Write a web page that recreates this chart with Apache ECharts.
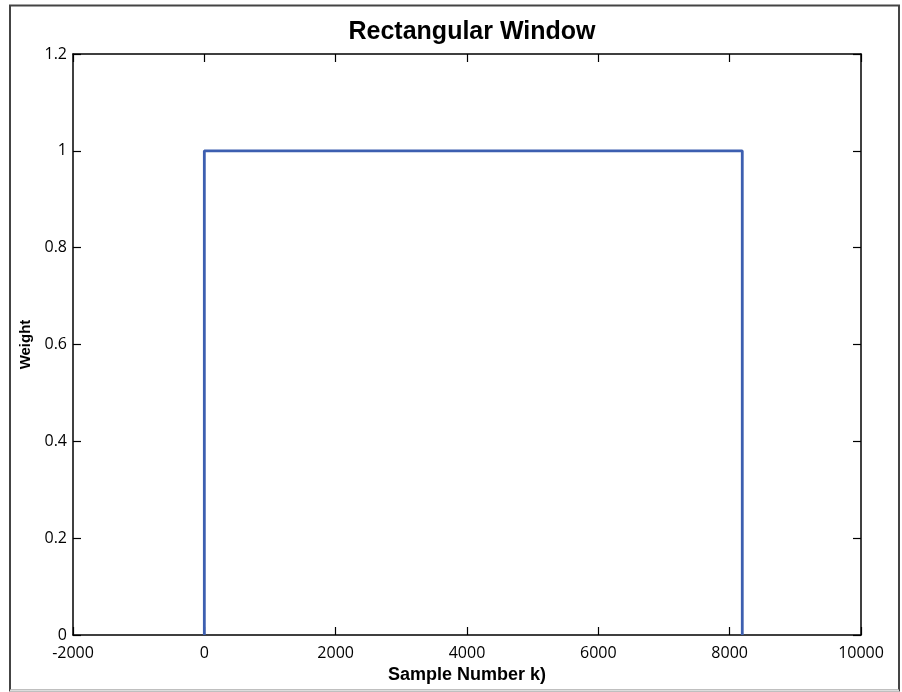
<!DOCTYPE html>
<html>
<head>
<meta charset="utf-8">
<script src="https://cdn.jsdelivr.net/npm/echarts@6/dist/echarts.min.js"></script>
<style>
  html, body { margin: 0; padding: 0; background: #fff; }
  #chart { width: 902px; height: 692px; }
</style>
</head>
<body>
<div id="chart"></div>
<script>
// Rectangular window of length 8192: weight 1 inside, 0 outside
const sampleIndex = [0, 0, 8192, 8192];
const weight = [0, 1, 1, 0];

const xTicks = { min: -2000, max: 10000, interval: 2000 };
const yTicks = { min: 0, max: 1.2, interval: 0.2 };

const titleText = 'Rectangular Window';
const xTitle = 'Sample Number k)';
const yTitle = 'Weight';

const points = sampleIndex.map((k, i) => [k, weight[i]]);

const tickFont = { fontFamily: 'Open Sans', fontSize: 16, color: '#000' };
const axisLine = { show: true, onZero: false, lineStyle: { color: '#000', width: 1.5 } };
const tick = { show: true, inside: true, length: 8, lineStyle: { color: '#000', width: 1.2 } };

function fmtY(v) {
  return Number(v.toFixed(1)).toString();
}
function fmtX(v) {
  return String(Math.round(v));
}

const chart = echarts.init(document.getElementById('chart'), null, { renderer: 'canvas' });
chart.setOption({
  animation: false,
  backgroundColor: '#fff',
  title: {
    text: titleText,
    left: 467, top: 15, textAlign: 'center',
    textStyle: { fontFamily: 'Liberation Sans', fontWeight: 'bold', fontSize: 25, color: '#000' }
  },
  grid: { left: 73, top: 54, right: 41, bottom: 57, containLabel: false },
  xAxis: [
    {
      type: 'value', position: 'bottom',
      min: xTicks.min, max: xTicks.max, interval: xTicks.interval,
      axisLine, splitLine: { show: false }, axisTick: tick,
      axisLabel: Object.assign({ margin: 10, formatter: fmtX }, tickFont),
      name: xTitle, nameLocation: 'middle', nameGap: 31,
      nameTextStyle: { fontFamily: 'Liberation Sans', fontWeight: 'bold', fontSize: 18, color: '#000' }
    },
    {
      type: 'value', position: 'top',
      min: xTicks.min, max: xTicks.max, interval: xTicks.interval,
      axisLine, splitLine: { show: false }, axisTick: tick,
      axisLabel: { show: false }
    }
  ],
  yAxis: [
    {
      type: 'value', position: 'left',
      min: yTicks.min, max: yTicks.max, interval: yTicks.interval,
      axisLine, splitLine: { show: false }, axisTick: tick,
      axisLabel: Object.assign({ margin: 6, formatter: fmtY }, tickFont),
      name: yTitle, nameLocation: 'middle', nameGap: 38, nameRotate: 90,
      nameTextStyle: { fontFamily: 'Liberation Sans', fontWeight: 'bold', fontSize: 15, color: '#000' }
    },
    {
      type: 'value', position: 'right',
      min: yTicks.min, max: yTicks.max, interval: yTicks.interval,
      axisLine, splitLine: { show: false }, axisTick: tick,
      axisLabel: { show: false }
    }
  ],
  series: [
    {
      type: 'line',
      xAxisIndex: 0, yAxisIndex: 0,
      data: points,
      showSymbol: false,
      lineStyle: { color: '#3d5fb0', width: 2.8 },
      clip: false
    }
  ],
  graphic: [
    {
      type: 'rect',
      shape: { x: 10, y: 5.5, width: 889, height: 685 },
      style: { fill: 'none', stroke: '#444', lineWidth: 2 },
      silent: true
    },
    {
      type: 'line',
      shape: { x1: 10, y1: 690.5, x2: 899, y2: 690.5 },
      style: { stroke: '#ddd', lineWidth: 2 },
      z: 10, silent: true
    }
  ]
});
</script>
</body>
</html>
